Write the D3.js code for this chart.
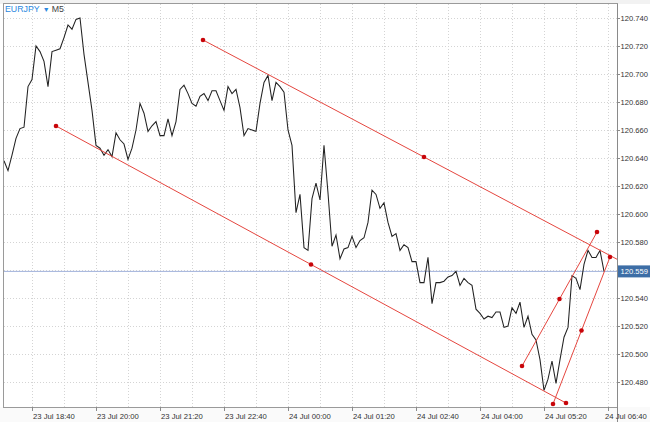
<!DOCTYPE html>
<html>
<head>
<meta charset="utf-8">
<script src="https://cdn.jsdelivr.net/npm/d3@7/dist/d3.min.js"></script>
<style>
html,body{margin:0;padding:0;background:#fff;}
svg{display:block;font-family:"Liberation Sans",Arial,sans-serif;}
</style>
</head>
<body>
<svg id="chart" width="650" height="422"></svg>
<script>
// ---- data ----
const symbol = "EURJPY";
const timeframe = "M5";
const prices = [
 120.638,120.631,120.642,120.654,120.661,120.662,120.691,120.696,120.720,120.716,
 120.709,120.691,120.716,120.717,120.718,120.726,120.735,120.732,120.739,120.740,
 120.714,120.694,120.674,120.649,120.647,120.642,120.646,120.641,120.658,120.653,
 120.650,120.639,120.647,120.660,120.679,120.672,120.659,120.663,120.666,120.656,
 120.656,120.668,120.656,120.666,120.689,120.692,120.686,120.679,120.677,120.684,
 120.686,120.681,120.688,120.688,120.681,120.674,120.691,120.686,120.689,120.676,
 120.656,120.661,120.660,120.659,120.679,120.694,120.699,120.681,120.694,120.691,
 120.687,120.660,120.649,120.601,120.614,120.576,120.574,120.611,120.622,120.610,
 120.649,120.615,120.577,120.585,120.568,120.575,120.576,120.584,120.576,120.581,
 120.583,120.594,120.617,120.614,120.604,120.608,120.594,120.584,120.586,120.574,
 120.578,120.576,120.566,120.566,120.551,120.551,120.569,120.536,120.551,120.551,
 120.552,120.555,120.556,120.559,120.549,120.554,120.551,120.549,120.532,120.529,
 120.525,120.527,120.526,120.530,120.530,120.519,120.520,120.533,120.529,120.537,
 120.519,120.527,120.514,120.510,120.496,120.474,120.482,120.495,120.479,120.496,
 120.512,120.519,120.556,120.554,120.546,120.564,120.574,120.569,120.569,120.574,
 120.559
];
const timeLabels = ["23 Jul 18:40","23 Jul 20:00","23 Jul 21:20","23 Jul 22:40","24 Jul 00:00",
                    "24 Jul 01:20","24 Jul 02:40","24 Jul 04:00","24 Jul 05:20","24 Jul 06:40"];
const timeLabelBars = [7,23,39,55,71,87,103,119,135,151];
const priceTicks = [120.480,120.500,120.520,120.540,120.560,120.580,120.600,120.620,
                    120.640,120.660,120.680,120.700,120.720,120.740];
const currentPrice = 120.559;
// trend lines: [startBar, startPrice, endBar, endPrice]
const trendStartBars = [49.75, 13, 129.5, 137.25];
const trendStartPrices = [120.7243, 120.6629, 120.4914, 120.4643];
const trendEndBars = [160.25, 140.5, 148.25, 151.5];
const trendEndPrices = [120.5571, 120.4650, 120.5871, 120.5693];

// ---- layout ----
const W = 650, H = 422;
const L = 4, T = 4, R = 617, B = 407;
const svg = d3.select("#chart");

const x = d3.scaleLinear().domain([0, (R - L) / 4]).range([L, R]);
const y = d3.scaleLinear().domain([120.740 - (B - 18) / 1400, 120.740 + (18 - T) / 1400]).range([B, T]);

svg.append("rect").attr("x",0).attr("y",0).attr("width",W).attr("height",T).attr("fill","#f2f2f2");
svg.append("rect").attr("x",0).attr("y",B).attr("width",W).attr("height",H-B).attr("fill","#fafafa");

svg.append("defs").append("clipPath").attr("id","plotclip")
  .append("rect").attr("x",L).attr("y",T).attr("width",R-L).attr("height",B-T);

// grid
const grid = svg.append("g");
grid.selectAll("line.h").data(priceTicks).join("line")
  .attr("x1",L).attr("x2",R).attr("y1",d=>Math.round(y(d))+0.5).attr("y2",d=>Math.round(y(d))+0.5)
  .attr("stroke","#d4d4d4").attr("stroke-dasharray","1,2");
const vGridBars = d3.range(7, 153, 8);
grid.selectAll("line.v").data(vGridBars).join("line")
  .attr("y1",T).attr("y2",B).attr("x1",d=>Math.round(x(d))+0.5).attr("x2",d=>Math.round(x(d))+0.5)
  .attr("stroke","#d4d4d4").attr("stroke-dasharray","1,2");

// frame
svg.append("rect").attr("x",L-0.5).attr("y",T-0.5).attr("width",R-L+1).attr("height",B-T+1)
  .attr("fill","none").attr("stroke","#9a9a9a");

// current price line
svg.append("line").attr("x1",L).attr("x2",R)
  .attr("y1",y(currentPrice)).attr("y2",y(currentPrice))
  .attr("stroke","#a2b2dc").attr("stroke-width",1);

// price series
const line = d3.line().x((d,i)=>x(i)).y(d=>y(d));
svg.append("path").datum(prices).attr("d",line)
  .attr("fill","none").attr("stroke","#222").attr("stroke-width",1.05)
  .attr("clip-path","url(#plotclip)");

// trend lines
const trends = trendStartBars.map((b,i)=>({b0:b,p0:trendStartPrices[i],b1:trendEndBars[i],p1:trendEndPrices[i]}));
const tg = svg.append("g").attr("clip-path","url(#plotclip)");
tg.selectAll("line").data(trends).join("line")
  .attr("x1",d=>x(d.b0)).attr("y1",d=>y(d.p0)).attr("x2",d=>x(d.b1)).attr("y2",d=>y(d.p1))
  .attr("stroke","#e5463f").attr("stroke-width",1);
const dots = [];
trends.forEach(d=>{
  dots.push([d.b0,d.p0]);
  dots.push([(d.b0+d.b1)/2,(d.p0+d.p1)/2]);
  dots.push([d.b1,d.p1]);
});
tg.selectAll("circle").data(dots).join("circle")
  .attr("cx",d=>x(d[0])).attr("cy",d=>y(d[1])).attr("r",2.3).attr("fill","#c8050a");

// right axis
const ax = svg.append("g");
ax.append("line").attr("x1",R+0.5).attr("x2",R+0.5).attr("y1",T).attr("y2",H).attr("stroke","#8a8a8a");
ax.selectAll("line.t").data(priceTicks).join("line")
  .attr("x1",R).attr("x2",R+3).attr("y1",d=>Math.round(y(d))+0.5).attr("y2",d=>Math.round(y(d))+0.5)
  .attr("stroke","#8a8a8a");
ax.selectAll("text").data(priceTicks).join("text")
  .attr("x",R+3.5).attr("y",d=>y(d)).attr("dy","0.35em")
  .attr("font-size",7.6).attr("fill","#333")
  .text(d=>d3.format(".3f")(d));

// current price label
const cp = svg.append("g");
cp.append("rect").attr("x",R+1).attr("y",y(currentPrice)-6).attr("width",W-R-1).attr("height",12)
  .attr("fill","#3d6ea6");
cp.append("text").attr("x",R+3.5).attr("y",y(currentPrice)).attr("dy","0.35em")
  .attr("font-size",7.6).attr("fill","#fff")
  .text(d3.format(".3f")(currentPrice));

// bottom axis
const bx = svg.append("g");
bx.selectAll("line").data(timeLabelBars).join("line")
  .attr("x1",d=>Math.round(x(d))+0.5).attr("x2",d=>Math.round(x(d))+0.5).attr("y1",B).attr("y2",B+4)
  .attr("stroke","#8a8a8a");
const labelW = 43;
bx.selectAll("text").data(timeLabels).join("text")
  .attr("x",(d,i)=>Math.min(x(timeLabelBars[i])+1, W-2-labelW)).attr("y",B+9).attr("dy","0.35em")
  .attr("font-size",7.7).attr("fill","#333")
  .text(d=>d);

// header
const hd = svg.append("text").attr("x",5).attr("y",12).attr("font-size",8.8);
hd.append("tspan").attr("fill","#2b88e0").text(symbol);
hd.append("tspan").attr("fill","#2b88e0").attr("font-size",7).attr("dx",3).text("▼");
hd.append("tspan").attr("fill","#444").attr("dx",2).text(timeframe);
</script>
</body>
</html>
